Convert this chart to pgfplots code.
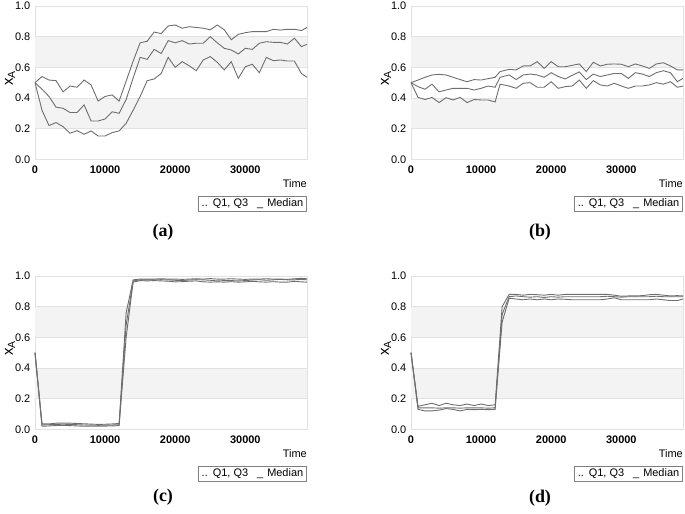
\documentclass[border=0pt]{standalone}
\usepackage{pgfplots}
\pgfplotsset{compat=1.18}
\usepackage{pgfplotstable}
\usepackage{fontspec}
\setmainfont{Liberation Sans}
\newfontfamily\capfont{Liberation Serif}

\definecolor{band}{RGB}{243,243,243}
\definecolor{frame}{RGB}{226,226,226}
\definecolor{lncol}{RGB}{110,110,110}

\pgfplotstableread{
t q1 med q3
0 0.5 0.5 0.5
1000 0.32 0.457 0.54
2000 0.22 0.41 0.517
3000 0.24 0.34 0.513
4000 0.213 0.333 0.44
5000 0.17 0.305 0.478
6000 0.187 0.305 0.47
7000 0.163 0.355 0.517
8000 0.185 0.25 0.485
9000 0.152 0.25 0.38
10000 0.152 0.263 0.41
11000 0.174 0.31 0.42
12000 0.185 0.30 0.38
13000 0.235 0.39 0.51
14000 0.32 0.53 0.64
15000 0.41 0.665 0.76
16000 0.513 0.652 0.77
17000 0.524 0.717 0.83
18000 0.56 0.69 0.82
19000 0.665 0.774 0.87
20000 0.60 0.76 0.876
21000 0.637 0.774 0.855
22000 0.61 0.752 0.865
23000 0.578 0.757 0.86
24000 0.648 0.757 0.855
25000 0.67 0.80 0.845
26000 0.633 0.76 0.876
27000 0.583 0.724 0.845
28000 0.637 0.713 0.78
29000 0.528 0.687 0.815
30000 0.604 0.724 0.826
31000 0.62 0.717 0.833
32000 0.565 0.757 0.833
33000 0.665 0.767 0.833
34000 0.643 0.763 0.848
35000 0.648 0.763 0.843
36000 0.641 0.752 0.848
37000 0.641 0.79 0.848
38000 0.56 0.735 0.84
38800 0.535 0.75 0.86
}\dataA

\pgfplotstableread{
t q1 med q3
0 0.5 0.5 0.5
1000 0.404 0.474 0.517
2000 0.39 0.457 0.535
3000 0.404 0.49 0.55
4000 0.37 0.44 0.554
5000 0.402 0.452 0.55
6000 0.387 0.463 0.535
7000 0.404 0.463 0.52
8000 0.37 0.463 0.506
9000 0.39 0.452 0.52
10000 0.387 0.463 0.517
11000 0.387 0.478 0.526
12000 0.374 0.47 0.535
12700 0.49 0.535 0.572
14000 0.478 0.55 0.587
15000 0.463 0.52 0.583
16000 0.496 0.55 0.609
17000 0.5 0.556 0.609
18000 0.47 0.55 0.637
19000 0.47 0.535 0.593
20000 0.506 0.565 0.637
21000 0.463 0.54 0.604
22000 0.474 0.524 0.604
23000 0.478 0.548 0.613
24000 0.517 0.57 0.622
25000 0.463 0.52 0.572
26000 0.513 0.556 0.633
27000 0.485 0.54 0.609
28000 0.478 0.55 0.62
29000 0.496 0.56 0.622
30000 0.478 0.56 0.62
31000 0.463 0.528 0.604
32000 0.478 0.565 0.622
33000 0.478 0.556 0.609
34000 0.485 0.54 0.593
35000 0.5 0.565 0.622
36000 0.49 0.578 0.63
37000 0.506 0.565 0.609
38000 0.47 0.506 0.583
38800 0.478 0.528 0.583
}\dataB

\pgfplotstableread{
t q1 med q3
0 0.5 0.5 0.5
1000 0.02 0.028 0.035
2000 0.022 0.03 0.035
3000 0.025 0.032 0.04
4000 0.025 0.033 0.04
5000 0.024 0.032 0.04
6000 0.022 0.03 0.038
7000 0.02 0.028 0.036
8000 0.02 0.027 0.034
9000 0.02 0.026 0.032
10000 0.021 0.027 0.033
11000 0.022 0.028 0.035
12000 0.024 0.03 0.038
13000 0.60 0.68 0.76
14000 0.96 0.968 0.975
15000 0.97 0.975 0.98
16000 0.968 0.975 0.98
17000 0.97 0.975 0.98
18000 0.968 0.976 0.982
19000 0.966 0.975 0.98
20000 0.962 0.972 0.98
21000 0.963 0.97 0.978
22000 0.966 0.974 0.98
23000 0.968 0.976 0.982
24000 0.962 0.975 0.98
25000 0.96 0.972 0.983
26000 0.962 0.968 0.98
27000 0.96 0.97 0.98
28000 0.963 0.97 0.982
29000 0.96 0.968 0.98
30000 0.962 0.97 0.978
31000 0.965 0.974 0.98
32000 0.962 0.976 0.98
33000 0.96 0.972 0.982
34000 0.963 0.975 0.98
35000 0.96 0.978 0.98
36000 0.96 0.975 0.978
37000 0.965 0.975 0.982
38000 0.962 0.978 0.985
38800 0.96 0.975 0.982
}\dataC

\pgfplotstableread{
t q1 med q3
0 0.5 0.5 0.5
1000 0.13 0.14 0.15
2000 0.12 0.14 0.16
3000 0.12 0.14 0.17
4000 0.125 0.138 0.155
5000 0.135 0.14 0.17
6000 0.13 0.14 0.16
7000 0.12 0.138 0.155
8000 0.13 0.14 0.165
9000 0.128 0.14 0.155
10000 0.13 0.14 0.165
11000 0.128 0.138 0.155
12000 0.13 0.14 0.16
13000 0.70 0.75 0.80
14000 0.855 0.865 0.88
15000 0.85 0.87 0.88
16000 0.845 0.865 0.875
17000 0.85 0.862 0.88
18000 0.845 0.865 0.878
19000 0.85 0.86 0.875
20000 0.845 0.865 0.88
21000 0.85 0.862 0.875
22000 0.848 0.865 0.88
23000 0.845 0.865 0.88
24000 0.845 0.865 0.88
25000 0.845 0.865 0.88
26000 0.845 0.865 0.88
27000 0.845 0.865 0.88
28000 0.85 0.868 0.88
29000 0.858 0.865 0.875
30000 0.845 0.862 0.868
31000 0.845 0.865 0.87
32000 0.845 0.865 0.87
33000 0.845 0.865 0.872
34000 0.845 0.865 0.878
35000 0.85 0.868 0.88
36000 0.845 0.865 0.875
37000 0.84 0.865 0.87
38000 0.84 0.865 0.872
38800 0.85 0.865 0.87
}\dataD

\pgfplotsset{
  panel/.style={
    scale only axis, width=272bp, height=153.3bp,
    xmin=0, xmax=38800, ymin=0, ymax=1,
    axis line style={draw=frame, line width=0.6bp},
    xtick={0,10000,20000,30000}, ytick={0,0.2,0.4,0.6,0.8,1.0},
    major tick length=0pt,
    scaled x ticks=false,
    /pgf/number format/assume math mode=true,
    tick label style={inner sep=0pt},
    xticklabel style={font=\bfseries\fontsize{11}{13}\selectfont,
      /pgf/number format/1000 sep={}, anchor=north, yshift=-6bp},
    yticklabel style={font=\fontsize{11}{13}\selectfont,
      /pgf/number format/fixed, /pgf/number format/fixed zerofill,
      /pgf/number format/precision=1, anchor=east, xshift=-4.5bp},
    clip=false,
    execute at begin axis={
      \fill[band] (rel axis cs:0,0.2) rectangle (rel axis cs:1,0.4);
      \fill[band] (rel axis cs:0,0.6) rectangle (rel axis cs:1,0.8);
      \draw[frame, line width=0.6bp] (rel axis cs:0,0.2) -- (rel axis cs:1,0.2);
      \draw[frame, line width=0.6bp] (rel axis cs:0,0.4) -- (rel axis cs:1,0.4);
      \draw[frame, line width=0.6bp] (rel axis cs:0,0.6) -- (rel axis cs:1,0.6);
      \draw[frame, line width=0.6bp] (rel axis cs:0,0.8) -- (rel axis cs:1,0.8);
    },
  },
  qline/.style={draw=lncol, line width=0.9bp},
}

\newcommand{\panelextras}{%
  \node[anchor=east, inner sep=0pt, font=\fontsize{11}{13}\selectfont] at ([yshift=-24bp]rel axis cs:1,0) {Time};
  \node[draw=gray, line width=0.6bp, anchor=north east, inner xsep=3.5bp, inner ysep=2.2bp, font=\fontsize{11}{13}\selectfont] at ([yshift=-37bp]rel axis cs:1,0) {..\hspace{5bp}Q1, Q3\hspace{9bp}\_\hspace{4bp}Median};
  \node[rotate=90, inner sep=0pt, font=\fontsize{15}{17}\selectfont] at ([xshift=-25bp]rel axis cs:0,0.53) {x\textsubscript{A}};
}

\begin{document}
\begin{tikzpicture}
\useasboundingbox (0,0) rectangle (685bp,-514bp);

\begin{axis}[panel, at={(35bp,-159.3bp)}, anchor=south west]
\addplot[qline] table[x=t,y=q3] {\dataA};
\addplot[qline] table[x=t,y=med] {\dataA};
\addplot[qline] table[x=t,y=q1] {\dataA};
\panelextras
\end{axis}

\begin{axis}[panel, at={(411bp,-159.3bp)}, anchor=south west]
\addplot[qline] table[x=t,y=q3] {\dataB};
\addplot[qline] table[x=t,y=med] {\dataB};
\addplot[qline] table[x=t,y=q1] {\dataB};
\panelextras
\end{axis}

\begin{axis}[panel, at={(35bp,-429.3bp)}, anchor=south west]
\addplot[qline] table[x=t,y=q3] {\dataC};
\addplot[qline] table[x=t,y=med] {\dataC};
\addplot[qline] table[x=t,y=q1] {\dataC};
\panelextras
\end{axis}

\begin{axis}[panel, at={(411bp,-429.3bp)}, anchor=south west]
\addplot[qline] table[x=t,y=q3] {\dataD};
\addplot[qline] table[x=t,y=med] {\dataD};
\addplot[qline] table[x=t,y=q1] {\dataD};
\panelextras
\end{axis}

\node[font=\capfont\bfseries\fontsize{18}{20}\selectfont] at (163bp,-232bp) {(a)};
\node[font=\capfont\bfseries\fontsize{18}{20}\selectfont] at (540bp,-232bp) {(b)};
\node[font=\capfont\bfseries\fontsize{18}{20}\selectfont] at (163bp,-497bp) {(c)};
\node[font=\capfont\bfseries\fontsize{18}{20}\selectfont] at (540bp,-498bp) {(d)};
\end{tikzpicture}
\end{document}
